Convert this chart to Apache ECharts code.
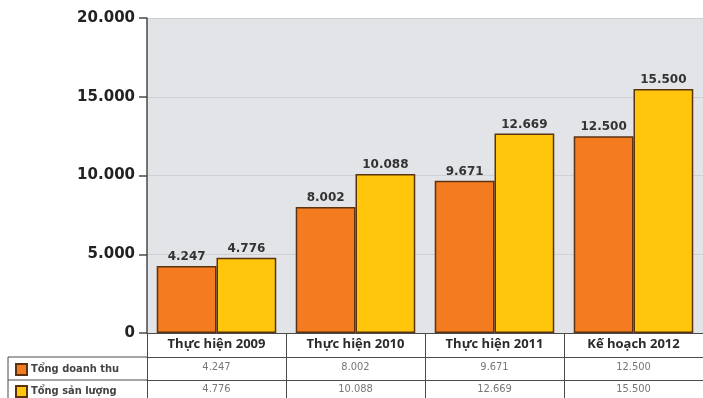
<!DOCTYPE html>
<html>
<head>
<meta charset="utf-8">
<script src="https://cdn.jsdelivr.net/npm/echarts@6/dist/echarts.min.js"></script>
<style>
  html, body { margin: 0; padding: 0; background: #fff; }
  #chart { width: 703px; height: 398px; }
</style>
</head>
<body>
<div id="chart"></div>
<script>
  // du lieu doc tu hinh
  var categories = ['Thực hiện 2009', 'Thực hiện 2010', 'Thực hiện 2011', 'Kế hoạch 2012'];
  var seriesNames = ['Tổng doanh thu', 'Tổng sản lượng'];
  var doanhThu = [4247, 8002, 9671, 12500];
  var sanLuong = [4776, 10088, 12669, 15500];
  var yTicks = [0, 5000, 10000, 15000, 20000];

  function fmt(n) {
    return String(n).replace(/\B(?=(\d{3})+(?!\d))/g, '.');
  }

  var lineColor = '#4a4a4a';
  var condensed = 'DejaVu Sans Condensed';
  var chart = echarts.init(document.getElementById('chart'));

  // moi dong cua bang co mot legend rieng
  function legendRow(name, top) {
    return {
      orient: 'vertical',
      left: 15, top: top,
      padding: 0,
      itemWidth: 11, itemHeight: 11,
      icon: 'rect',
      selectedMode: false,
      data: [name],
      textStyle: {
        fontFamily: condensed, fontWeight: 'bold',
        fontSize: 11, color: '#444', padding: [0, 0, 0, -1]
      }
    };
  }

  chart.setOption({
    animation: false,
    grid: {
      left: 147, right: 0, top: 18, bottom: 65,
      show: true, backgroundColor: '#e3e4e8', borderWidth: 0
    },
    legend: [legendRow(seriesNames[0], 363), legendRow(seriesNames[1], 385)],
    xAxis: [
      {
        type: 'category', data: categories, position: 'bottom',
        axisLine: { show: true, lineStyle: { color: lineColor, width: 1 } },
        axisTick: { show: true, length: 24, interval: 0, lineStyle: { color: lineColor } },
        axisLabel: {
          interval: 0, margin: 5,
          fontFamily: 'Open Sans', fontWeight: 'bold', fontSize: 13, color: '#2a2a2a'
        }
      },
      {
        type: 'category', data: categories, position: 'bottom', offset: 24,
        axisLine: { show: true, lineStyle: { color: lineColor, width: 1 } },
        axisTick: { show: true, length: 23, interval: 0, lineStyle: { color: lineColor } },
        axisLabel: {
          interval: 0, margin: 5,
          fontFamily: condensed, fontSize: 11, color: '#777',
          formatter: function (v, i) { return fmt(doanhThu[i]); }
        }
      },
      {
        type: 'category', data: categories, position: 'bottom', offset: 47,
        axisLine: { show: true, lineStyle: { color: lineColor, width: 1 } },
        axisTick: { show: true, length: 22, interval: 0, lineStyle: { color: lineColor } },
        axisLabel: {
          interval: 0, margin: 4,
          fontFamily: condensed, fontSize: 11, color: '#777',
          formatter: function (v, i) { return fmt(sanLuong[i]); }
        }
      }
    ],
    yAxis: {
      type: 'value',
      min: yTicks[0], max: yTicks[yTicks.length - 1], interval: yTicks[1] - yTicks[0],
      axisLine: { show: true, lineStyle: { color: lineColor, width: 1.5 } },
      axisTick: { show: true, length: 8, lineStyle: { color: lineColor, width: 1.5 } },
      splitLine: { show: true, lineStyle: { color: '#cdd0d4', width: 1 } },
      axisLabel: {
        margin: 12,
        fontFamily: 'DejaVu Sans', fontWeight: 'bold', fontSize: 15, color: '#222',
        formatter: function (v) { return fmt(v); }
      }
    },
    series: [
      {
        name: seriesNames[0], type: 'bar', data: doanhThu, xAxisIndex: 0,
        barGap: '0%', barCategoryGap: '14%',
        itemStyle: { color: '#f47b20', borderColor: '#5b3311', borderWidth: 1.5 },
        label: {
          show: true, position: 'top', distance: 3,
          fontFamily: 'DejaVu Sans', fontWeight: 'bold', fontSize: 12, color: '#333',
          formatter: function (p) { return fmt(p.value); }
        }
      },
      {
        name: seriesNames[1], type: 'bar', data: sanLuong, xAxisIndex: 0,
        barGap: '0%', barCategoryGap: '14%',
        itemStyle: { color: '#ffc60b', borderColor: '#5b3311', borderWidth: 1.5 },
        label: {
          show: true, position: 'top', distance: 3,
          fontFamily: 'DejaVu Sans', fontWeight: 'bold', fontSize: 12, color: '#333',
          formatter: function (p) { return fmt(p.value); }
        }
      }
    ],
    // khung cot ben trai cua bang
    graphic: [
      { type: 'line', shape: { x1: 8, y1: 357, x2: 147, y2: 357 }, style: { stroke: lineColor, lineWidth: 1 } },
      { type: 'line', shape: { x1: 8, y1: 380, x2: 147, y2: 380 }, style: { stroke: lineColor, lineWidth: 1 } },
      { type: 'line', shape: { x1: 8, y1: 357, x2: 8, y2: 398 }, style: { stroke: lineColor, lineWidth: 1 } }
    ]
  });
</script>
</body>
</html>
